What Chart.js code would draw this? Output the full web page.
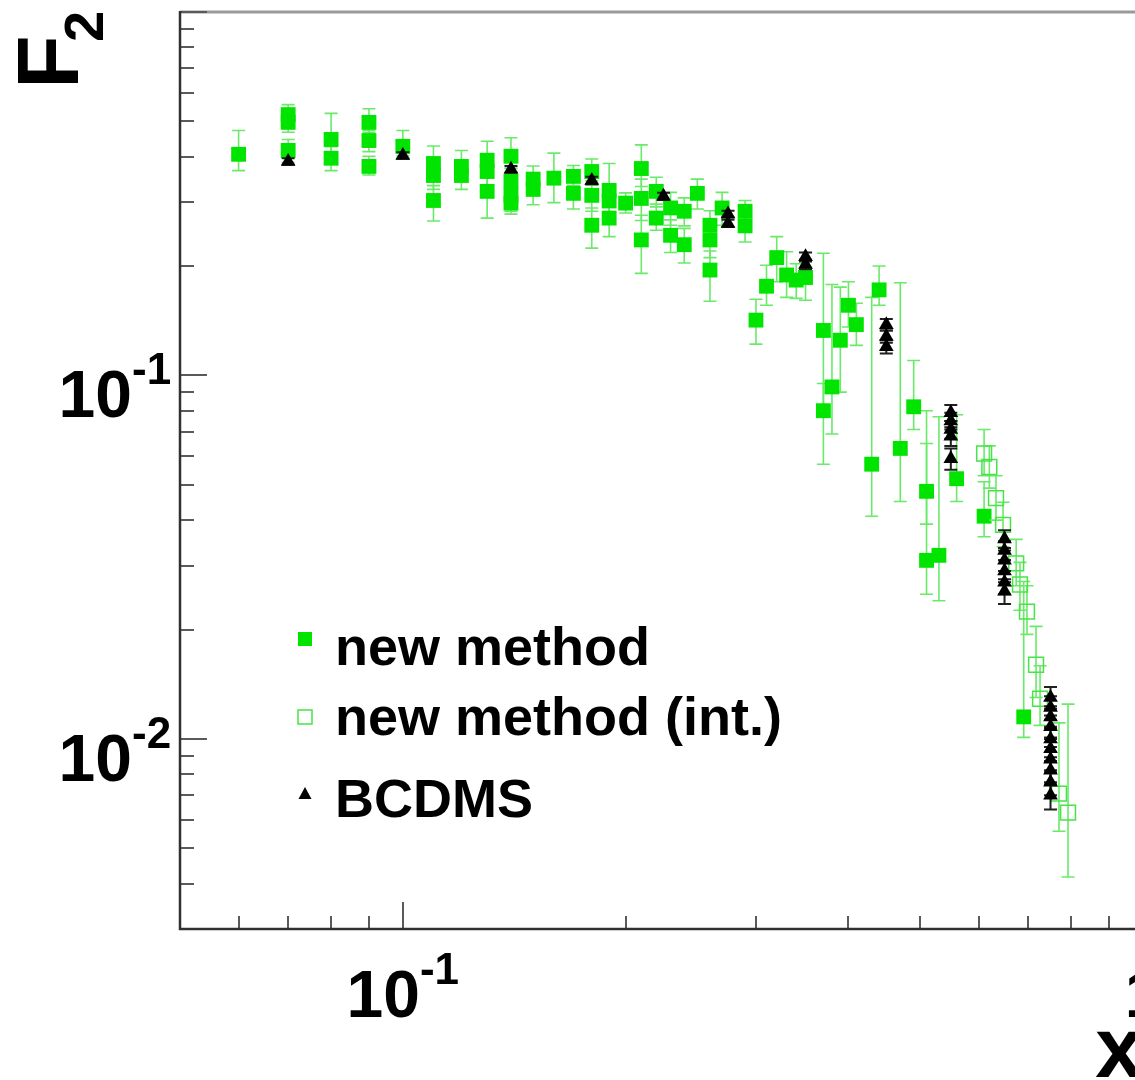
<!DOCTYPE html>
<html lang="en">
<head>
<meta charset="UTF-8">
<title>F2 vs x</title>
<script src="https://cdn.jsdelivr.net/npm/chart.js"></script>
<style>
  html, body { margin: 0; padding: 0; background: #fff; overflow: hidden; }
  canvas { display: block; }
</style>
</head>
<body>
<canvas id="f2Chart" width="1160" height="1080"></canvas>
<script>
// new method (filled squares)
const nmX = [0.06, 0.07, 0.07, 0.07, 0.08, 0.08, 0.09, 0.09, 0.09, 0.10,
  0.11, 0.11, 0.11, 0.12, 0.12, 0.13, 0.13, 0.13, 0.14, 0.14, 0.14, 0.14,
  0.15, 0.15, 0.16, 0.17, 0.17, 0.18, 0.18, 0.18, 0.19, 0.19, 0.19, 0.20,
  0.21, 0.21, 0.21, 0.22, 0.22, 0.23, 0.23, 0.24, 0.24, 0.25, 0.26, 0.26, 0.26,
  0.27, 0.29, 0.29, 0.30, 0.31, 0.32, 0.33, 0.34, 0.35, 0.37, 0.37, 0.38,
  0.39, 0.40, 0.41, 0.43, 0.44, 0.47, 0.49, 0.51, 0.51, 0.53, 0.56, 0.61, 0.69];
const nmF2 = [0.406, 0.522, 0.497, 0.416, 0.446, 0.396, 0.497, 0.443, 0.376, 0.427,
  0.383, 0.355, 0.303, 0.376, 0.355, 0.391, 0.364, 0.321, 0.401, 0.342, 0.313, 0.298,
  0.347, 0.325, 0.349, 0.353, 0.317, 0.364, 0.313, 0.259, 0.323, 0.302, 0.271, 0.298,
  0.371, 0.307, 0.236, 0.321, 0.271, 0.289, 0.243, 0.283, 0.229, 0.317, 0.259, 0.236, 0.195,
  0.289, 0.283, 0.258, 0.142, 0.176, 0.211, 0.189, 0.183, 0.186, 0.133, 0.080, 0.093,
  0.125, 0.156, 0.138, 0.057, 0.172, 0.063, 0.082, 0.048, 0.031, 0.032, 0.052, 0.041, 0.0115];
const nmErrUp = [0.066, 0.034, 0.03, 0.03, 0.08, 0.03, 0.045, 0.03, 0.025, 0.045,
  0.045, 0.03, 0.03, 0.04, 0.03, 0.05, 0.03, 0.03, 0.05, 0.03, 0.03, 0.03,
  0.03, 0.03, 0.06, 0.025, 0.03, 0.03, 0.03, 0.03, 0.06, 0.03, 0.03, 0.02,
  0.06, 0.04, 0.04, 0.03, 0.025, 0.03, 0.025, 0.025, 0.025, 0.03, 0.025, 0.025, 0.025,
  0.03, 0.02, 0.025, 0.02, 0.025, 0.03, 0.03, 0.02, 0.02, 0.084, 0.015, 0.085,
  0.05, 0.025, 0.02, 0.107, 0.028, 0.117, 0.028, 0.017, 0.049, 0.045, 0.026, 0.01, 0.0156];
const nmErrDn = [0.04, 0.03, 0.03, 0.03, 0.04, 0.03, 0.03, 0.03, 0.02, 0.025,
  0.03, 0.03, 0.037, 0.03, 0.03, 0.03, 0.03, 0.05, 0.03, 0.03, 0.03, 0.02,
  0.03, 0.03, 0.05, 0.02, 0.03, 0.03, 0.03, 0.035, 0.03, 0.03, 0.03, 0.018,
  0.04, 0.04, 0.045, 0.03, 0.02, 0.03, 0.025, 0.025, 0.025, 0.03, 0.025, 0.025, 0.035,
  0.03, 0.02, 0.025, 0.02, 0.02, 0.03, 0.025, 0.02, 0.025, 0.05, 0.023, 0.024,
  0.035, 0.02, 0.017, 0.016, 0.016, 0.018, 0.011, 0.009, 0.006, 0.008, 0.007, 0.005, 0.0014];

// new method (int.) (open squares)
const intX = [0.61, 0.62, 0.633, 0.647, 0.674, 0.682, 0.697, 0.717, 0.726, 0.77, 0.792];
const intF2 = [0.061, 0.056, 0.046, 0.0388, 0.0304, 0.0266, 0.0224, 0.016, 0.0129, 0.00707, 0.00627];
const intErrUp = [0.01, 0.008, 0.007, 0.006, 0.005, 0.004, 0.004, 0.0044, 0.003, 0.004, 0.0062];
const intErrDn = [0.008, 0.007, 0.006, 0.005, 0.004, 0.004, 0.003, 0.003, 0.002, 0.0015, 0.0021];

// BCDMS (triangles)
const bcX = [0.07, 0.10, 0.14, 0.18, 0.225, 0.275, 0.275, 0.35, 0.35,
  0.45, 0.45, 0.45, 0.55, 0.55, 0.55, 0.55, 0.55,
  0.65, 0.65, 0.65, 0.65, 0.65, 0.65,
  0.75, 0.75, 0.75, 0.75, 0.75, 0.75, 0.75, 0.75, 0.75, 0.75];
const bcF2 = [0.388, 0.403, 0.369, 0.344, 0.311, 0.278, 0.262, 0.212, 0.202,
  0.138, 0.128, 0.120, 0.079, 0.075, 0.071, 0.068, 0.059,
  0.0355, 0.033, 0.031, 0.029, 0.027, 0.0255,
  0.0130, 0.0122, 0.0115, 0.0108, 0.0100, 0.0094, 0.0088, 0.0082, 0.0076, 0.0070];
const bcErr = [0.008, 0.008, 0.008, 0.008, 0.007, 0.006, 0.006, 0.006, 0.006,
  0.005, 0.005, 0.005, 0.004, 0.004, 0.004, 0.004, 0.004,
  0.002, 0.002, 0.002, 0.002, 0.002, 0.002,
  0.0009, 0.0009, 0.0008, 0.0008, 0.0008, 0.0007, 0.0007, 0.0007, 0.0006, 0.0006];

// axis ranges and labelled ticks
const xRange = [0.05, 1];
const yRange = [0.003, 1];
const xTickVals = [0.1, 1];
const xTickBase = ['10', '1'];
const xTickExp = ['-1', ''];
const yTickVals = [0.01, 0.1];
const yTickBase = ['10', '10'];
const yTickExp = ['-2', '-1'];

const GREEN = 'rgb(0, 228, 0)';
const GREEN_BAR = 'rgb(105, 234, 105)';
const GREEN_EDGE = 'rgb(70, 228, 70)';
const FONT = '"Liberation Sans", Arial, Helvetica, sans-serif';

function toPoints(xs, ys) {
  return xs.map((x, i) => ({ x: x, y: ys[i] }));
}

// vertical error bars with end caps, drawn just before each dataset's markers
const errorBars = {
  id: 'errorBars',
  beforeDatasetDraw(chart, args) {
    const ds = chart.data.datasets[args.index];
    if (!ds.errUp) return;
    const { ctx, chartArea: a } = chart;
    const xs = chart.scales.x, ys = chart.scales.y;
    ctx.save();
    ctx.beginPath();
    ctx.rect(a.left, a.top, a.right - a.left, a.bottom - a.top);
    ctx.clip();
    ctx.strokeStyle = ds.errColor;
    ctx.lineWidth = ds.errWidth || 1.6;
    const cap = 6.5;
    ds.data.forEach((p, i) => {
      const px = xs.getPixelForValue(p.x);
      const top = ys.getPixelForValue(p.y + ds.errUp[i]);
      const bot = ys.getPixelForValue(Math.max(p.y - ds.errDn[i], 1e-5));
      ctx.beginPath();
      ctx.moveTo(px, top); ctx.lineTo(px, bot);
      ctx.moveTo(px - cap, top); ctx.lineTo(px + cap, top);
      ctx.moveTo(px - cap, bot); ctx.lineTo(px + cap, bot);
      ctx.stroke();
    });
    ctx.restore();
  }
};

// frame, log ticks, labels, titles and legend
const frame = {
  id: 'frame',
  afterDraw(chart) {
    const { ctx, chartArea: a } = chart;
    const xs = chart.scales.x, ys = chart.scales.y;
    ctx.save();

    // top border
    ctx.strokeStyle = '#9a9a9a';
    ctx.lineWidth = 3;
    ctx.beginPath();
    ctx.moveTo(a.left, a.top); ctx.lineTo(a.right, a.top);
    ctx.stroke();

    // tick marks
    ctx.strokeStyle = '#5a5a5a';
    ctx.lineWidth = 2;
    ctx.beginPath();
    for (let e = -3; e <= 0; e++) {
      for (let m = 1; m <= 9; m++) {
        const v = m * Math.pow(10, e);
        if (v > yRange[0] * 1.001 && v <= yRange[1] * 1.001) {
          const py = Math.round(ys.getPixelForValue(v));
          ctx.moveTo(a.left, py); ctx.lineTo(a.left + (m === 1 ? 27 : 14), py);
        }
        if (v > xRange[0] * 1.001 && v <= xRange[1] * 1.001) {
          const px = Math.round(xs.getPixelForValue(v));
          ctx.moveTo(px, a.bottom); ctx.lineTo(px, a.bottom - (m === 1 ? 27 : 13));
        }
      }
    }
    ctx.stroke();

    // axis lines
    ctx.strokeStyle = '#303030';
    ctx.lineWidth = 2.5;
    ctx.beginPath();
    ctx.moveTo(a.left, a.top - 1); ctx.lineTo(a.left, a.bottom);
    ctx.lineTo(a.right, a.bottom);
    ctx.stroke();

    // tick labels
    ctx.fillStyle = '#000';
    ctx.textBaseline = 'alphabetic';
    const baseFont = 'bold 66px ' + FONT;
    const expFont = 'bold 44px ' + FONT;
    xTickVals.forEach((v, i) => {
      ctx.font = baseFont;
      const wb = ctx.measureText(xTickBase[i]).width;
      ctx.font = expFont;
      const we = ctx.measureText(xTickExp[i]).width;
      const x0 = xs.getPixelForValue(v) - (wb + we) / 2;
      ctx.textAlign = 'left';
      ctx.font = baseFont;
      ctx.fillText(xTickBase[i], x0, 1017);
      ctx.font = expFont;
      ctx.fillText(xTickExp[i], x0 + wb, 984);
    });
    yTickVals.forEach((v, i) => {
      const py = ys.getPixelForValue(v);
      ctx.textAlign = 'right';
      ctx.font = baseFont;
      ctx.fillText(yTickBase[i], 132, py + 42);
      ctx.textAlign = 'left';
      ctx.font = expFont;
      ctx.fillText(yTickExp[i], 132, py + 9);
    });

    // axis titles
    ctx.textAlign = 'right';
    ctx.font = 'bold 86px ' + FONT;
    ctx.fillText('x', a.right, 1077);

    ctx.save();
    ctx.translate(78, 89);
    ctx.rotate(-Math.PI / 2);
    ctx.textAlign = 'left';
    ctx.font = 'bold 88px ' + FONT;
    ctx.fillText('F', 0, 0);
    ctx.font = 'bold 56px ' + FONT;
    ctx.fillText('2', 47, 25);
    ctx.restore();

    // legend
    const lx = 305;
    ctx.fillStyle = GREEN;
    ctx.fillRect(lx - 7, 639 - 7, 14, 14);
    ctx.strokeStyle = GREEN_EDGE;
    ctx.lineWidth = 1.5;
    ctx.strokeRect(lx - 7, 717 - 7, 14, 14);
    ctx.fillStyle = '#000';
    ctx.beginPath();
    ctx.moveTo(lx, 787); ctx.lineTo(lx + 6.5, 799); ctx.lineTo(lx - 6.5, 799);
    ctx.closePath();
    ctx.fill();

    ctx.textAlign = 'left';
    ctx.font = 'bold 54px ' + FONT;
    ctx.fillText('new method', 335, 665);
    ctx.fillText('new method (int.)', 335, 735);
    ctx.fillText('BCDMS', 335, 817);

    ctx.restore();
  }
};

new Chart(document.getElementById('f2Chart'), {
  type: 'scatter',
  data: {
    datasets: [
      {
        label: 'BCDMS',
        data: toPoints(bcX, bcF2),
        errUp: bcErr,
        errDn: bcErr,
        errColor: '#202020',
        errWidth: 2,
        pointStyle: 'triangle',
        pointRadius: 8.5,
        pointBackgroundColor: '#000',
        pointBorderWidth: 0,
        order: 0
      },
      {
        label: 'new method (int.)',
        data: toPoints(intX, intF2),
        errUp: intErrUp,
        errDn: intErrDn,
        errColor: GREEN_BAR,
        pointStyle: 'rect',
        pointRadius: 10.5,
        pointBackgroundColor: 'rgba(255,255,255,0)',
        pointBorderColor: GREEN_EDGE,
        pointBorderWidth: 1.5,
        order: 1
      },
      {
        label: 'new method',
        data: toPoints(nmX, nmF2),
        errUp: nmErrUp,
        errDn: nmErrDn,
        errColor: GREEN_BAR,
        pointStyle: 'rect',
        pointRadius: 10.5,
        pointBackgroundColor: GREEN,
        pointBorderWidth: 0,
        order: 2
      }
    ]
  },
  options: {
    responsive: false,
    devicePixelRatio: 1,
    animation: false,
    layout: { padding: { left: 180, top: 8, right: 17, bottom: 151 } },
    scales: {
      x: { type: 'logarithmic', min: xRange[0], max: xRange[1], display: false },
      y: { type: 'logarithmic', min: yRange[0], max: yRange[1], display: false }
    },
    plugins: {
      legend: { display: false },
      tooltip: { enabled: false }
    }
  },
  plugins: [errorBars, frame]
});
</script>
</body>
</html>
